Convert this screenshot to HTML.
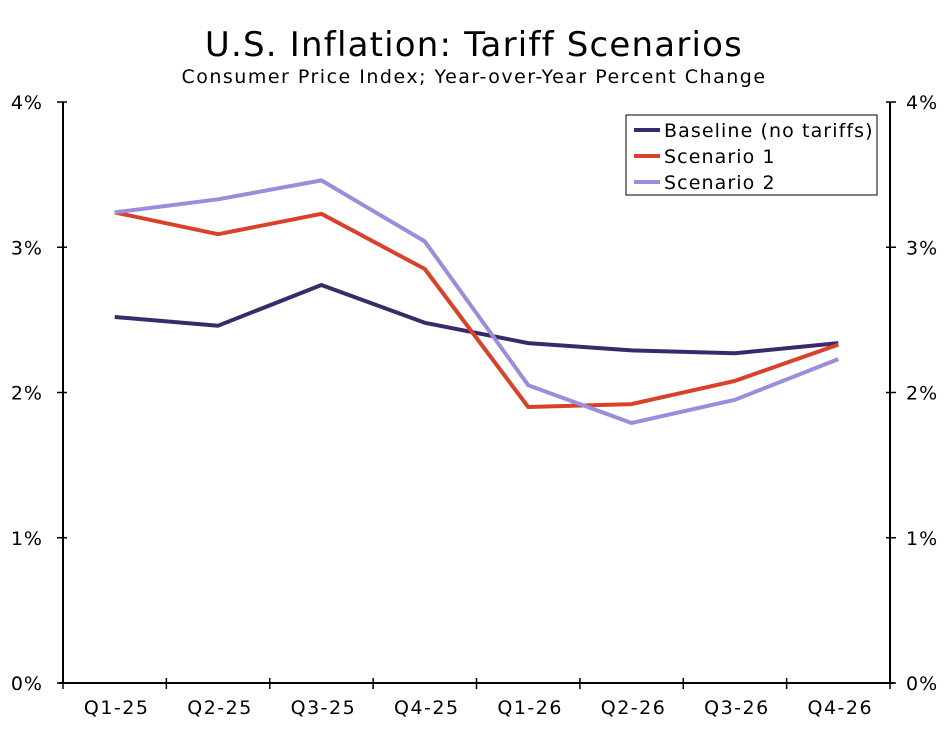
<!DOCTYPE html>
<html><head><meta charset="utf-8"><style>
body{margin:0;background:#fff;}
svg text{font-family:"DejaVu Sans","Liberation Sans",sans-serif;fill:#000;}
</style></head><body>
<svg id="chart" width="948" height="726" xmlns="http://www.w3.org/2000/svg">
<text x="474" y="56" text-anchor="middle" font-size="34" letter-spacing="1.2">U.S. Inflation: Tariff Scenarios</text>
<text x="474" y="83" text-anchor="middle" font-size="19" letter-spacing="1.5">Consumer Price Index; Year-over-Year Percent Change</text>
<g id="axes"></g>
<g id="series"></g>
<g>
<rect x="626" y="115" width="251" height="80" fill="#fff" stroke="#000" stroke-width="1"/>
<line x1="634" y1="130" x2="660" y2="130" stroke="#3b2a6b" stroke-width="4"/>
<text x="664" y="137" font-size="19" letter-spacing="1.1">Baseline (no tariffs)</text>
<line x1="634" y1="156" x2="660" y2="156" stroke="#d9412a" stroke-width="4"/>
<text x="664" y="163" font-size="19" letter-spacing="1.1">Scenario 1</text>
<line x1="634" y1="182" x2="660" y2="182" stroke="#9b8ddc" stroke-width="4"/>
<text x="664" y="189" font-size="19" letter-spacing="1.1">Scenario 2</text>
</g>
</svg>
<script>
const categories=["Q1-25","Q2-25","Q3-25","Q4-25","Q1-26","Q2-26","Q3-26","Q4-26"];
const baseline=[2.52,2.46,2.74,2.48,2.34,2.29,2.27,2.34];
const scenario1=[3.24,3.09,3.23,2.85,1.90,1.92,2.08,2.33];
const scenario2=[3.24,3.33,3.46,3.04,2.05,1.79,1.95,2.23];
const yTicks=[0,1,2,3,4];
const yTickLabels=["0%","1%","2%","3%","4%"];

const NS="http://www.w3.org/2000/svg";
const L=63,R=890,T=102,B=683;
const bw=(R-L)/categories.length;
function x(i){return L+(i+0.5)*bw;}
function y(v){return B-(v/4)*(B-T);}
function mk(tag,attrs,parent){const e=document.createElementNS(NS,tag);for(const k in attrs)e.setAttribute(k,attrs[k]);parent.appendChild(e);return e;}
const ax=document.getElementById('axes');
let e;
e=mk('line',{x1:L,y1:T,x2:L,y2:B,stroke:'#000','stroke-width':2},ax);


e=mk('line',{x1:R,y1:T,x2:R,y2:B,stroke:'#000','stroke-width':2},ax);


e=mk('line',{x1:L-4,y1:B,x2:R+4,y2:B,stroke:'#000','stroke-width':2},ax);


yTicks.forEach((v,i)=>{
  const yy=y(v);
  e=mk('line',{x1:L-6,y1:yy,x2:L+4,y2:yy,stroke:'#000','stroke-width':1.5},ax);
  
  
  e=mk('line',{x1:R-4,y1:yy,x2:R+6,y2:yy,stroke:'#000','stroke-width':1.5},ax);
  
  
  e=mk('text',{x:L-20,y:yy+7,'text-anchor':'end','font-size':19,'letter-spacing':1},ax);e.textContent=yTickLabels[i];
  
  
  e=mk('text',{x:R+16,y:yy+7,'text-anchor':'start','font-size':19,'letter-spacing':1},ax);e.textContent=yTickLabels[i];
  
  
});
for(let i=0;i<=categories.length;i++){
  const xx=L+i*bw;
  e=mk('line',{x1:xx,y1:B-5,x2:xx,y2:B+6,stroke:'#000','stroke-width':1.5},ax);
  
  
}
categories.forEach((c,i)=>{
  e=mk('text',{x:x(i)+2,y:B+31,'text-anchor':'middle','font-size':19,'letter-spacing':1.5},ax);e.textContent=c;
  
  
});
const sg=document.getElementById('series');
[[baseline,'#3b2a6b','line-baseline'],[scenario1,'#d9412a','line-scenario-1'],[scenario2,'#9b8ddc','line-scenario-2']].forEach(s=>{
  const pts=s[0].map((v,i)=>x(i).toFixed(1)+','+y(v).toFixed(1)).join(' ');
  e=mk('polyline',{points:pts,fill:'none',stroke:s[1],'stroke-width':4,'stroke-linejoin':'round'},sg);
  
  
});
</script>
</body></html>
